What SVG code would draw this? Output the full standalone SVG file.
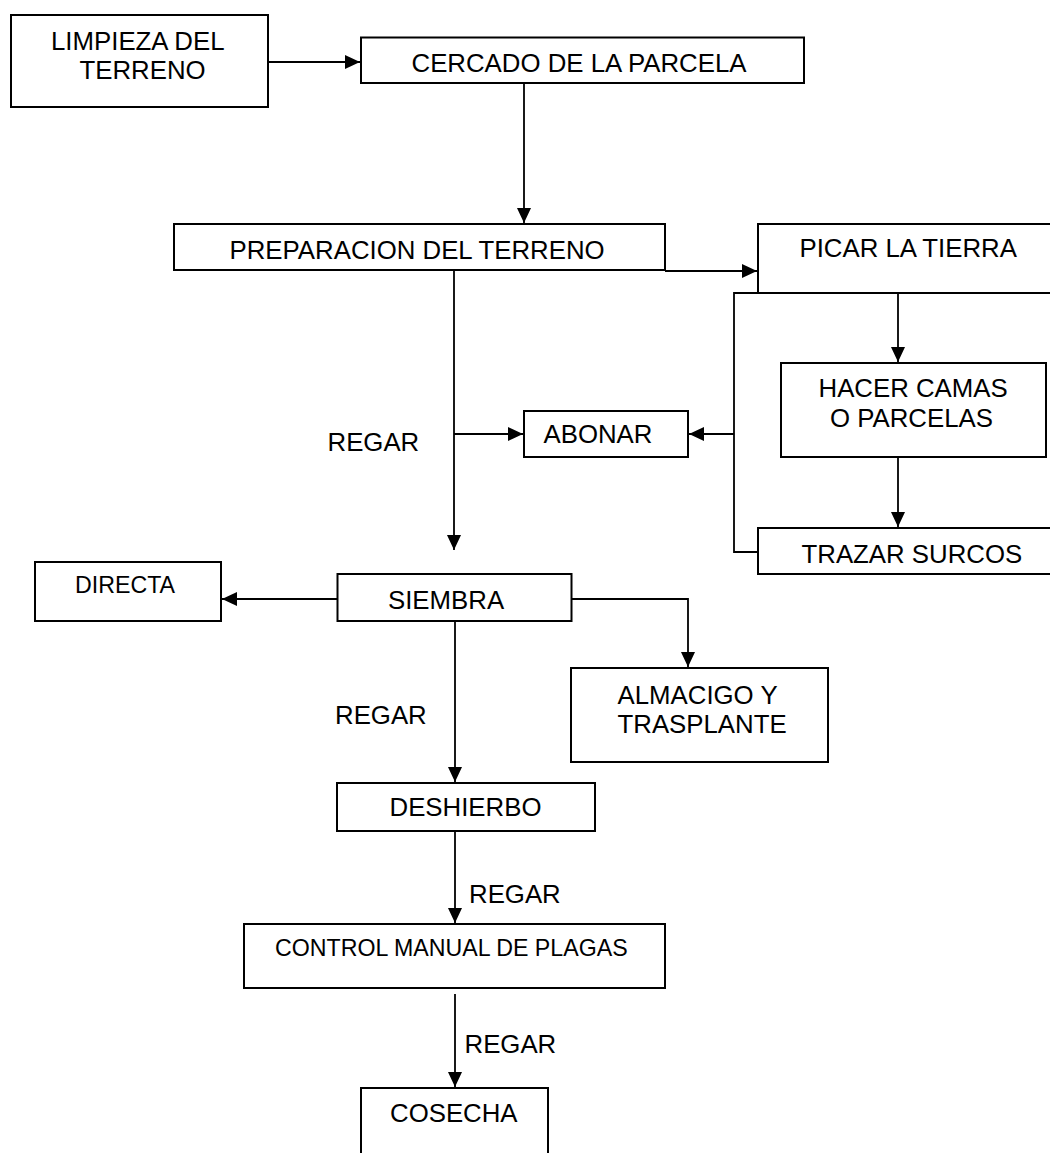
<svg xmlns="http://www.w3.org/2000/svg" width="1050" height="1153" viewBox="0 0 1050 1153">
<style>
.box{fill:#fff;stroke:#000;stroke-width:2}
.t{font-family:"Liberation Sans",Arial,sans-serif;font-size:25.8px;fill:#000}
.s{font-size:23.2px}
.c{fill:none;stroke:#000;stroke-width:1.8}
</style>
<defs>
<marker id="ah" markerUnits="userSpaceOnUse" markerWidth="16" markerHeight="14" refX="15" refY="7" orient="auto">
<path d="M0,0 L15,7 L0,14 z" fill="#000"/>
</marker>
</defs>
<rect width="1050" height="1153" fill="#fff"/>
<g id="connectors">
<path class="c" d="M268,62 H360" marker-end="url(#ah)"/>
<path class="c" d="M524,83 V223" marker-end="url(#ah)"/>
<path class="c" d="M665,271 H757" marker-end="url(#ah)"/>
<path class="c" d="M898,293 V362" marker-end="url(#ah)"/>
<path class="c" d="M898,457 V527" marker-end="url(#ah)"/>
<path class="c" d="M758,293 H734 V552 H758"/>
<path class="c" d="M734,434 H689" marker-end="url(#ah)"/>
<path class="c" d="M454,270 V550" marker-end="url(#ah)"/>
<path class="c" d="M454,434 H523" marker-end="url(#ah)"/>
<path class="c" d="M337.5,599 H222" marker-end="url(#ah)"/>
<path class="c" d="M571.5,599 H688 V667" marker-end="url(#ah)"/>
<path class="c" d="M455,621 V782" marker-end="url(#ah)"/>
<path class="c" d="M455,831 V923" marker-end="url(#ah)"/>
<path class="c" d="M455,994 V1087" marker-end="url(#ah)"/>
</g>
<g id="limpieza"><rect class="box" x="11" y="15" width="257" height="92"/>
<text class="t" x="51" y="50">LIMPIEZA DEL</text><text class="t" x="79.5" y="79">TERRENO</text></g>
<g id="cercado"><rect class="box" x="361" y="37.5" width="443" height="45.5"/>
<text class="t" x="411.5" y="72">CERCADO DE LA PARCELA</text></g>
<g id="preparacion"><rect class="box" x="174" y="224" width="491" height="46"/>
<text class="t" x="229.5" y="259">PREPARACION DEL TERRENO</text></g>
<g id="picar"><rect class="box" x="758" y="224" width="300" height="69"/>
<text class="t" x="799.5" y="257">PICAR LA TIERRA</text></g>
<g id="hacer"><rect class="box" x="781" y="363" width="265" height="94"/>
<text class="t" x="818.5" y="397">HACER CAMAS</text><text class="t" x="830" y="427">O PARCELAS</text></g>
<g id="abonar"><rect class="box" x="524" y="411" width="164" height="46"/>
<text class="t" x="543.5" y="443">ABONAR</text></g>
<g id="regar1"><text class="t" x="327.5" y="451">REGAR</text></g>
<g id="trazar"><rect class="box" x="758" y="528" width="300" height="46"/>
<text class="t" x="801.5" y="563">TRAZAR SURCOS</text></g>
<g id="directa"><rect class="box" x="35" y="562" width="186" height="59"/>
<text class="t s" x="75" y="593">DIRECTA</text></g>
<g id="siembra"><rect class="box" x="337.5" y="574" width="234" height="47"/>
<text class="t" x="388" y="609">SIEMBRA</text></g>
<g id="almacigo"><rect class="box" x="571" y="668" width="257" height="94"/>
<text class="t" x="617.5" y="704">ALMACIGO Y</text><text class="t" x="617.5" y="733">TRASPLANTE</text></g>
<g id="regar2"><text class="t" x="335" y="724">REGAR</text></g>
<g id="deshierbo"><rect class="box" x="337" y="783" width="258" height="48"/>
<text class="t" x="389.5" y="816">DESHIERBO</text></g>
<g id="regar3"><text class="t" x="469" y="903">REGAR</text></g>
<g id="control"><rect class="box" x="244" y="924" width="421" height="64"/>
<text class="t s" x="275" y="956">CONTROL MANUAL DE PLAGAS</text></g>
<g id="regar4"><text class="t" x="464.5" y="1053">REGAR</text></g>
<g id="cosecha"><rect class="box" x="361" y="1088" width="187" height="90"/>
<text class="t" x="390" y="1122">COSECHA</text></g>
</svg>
